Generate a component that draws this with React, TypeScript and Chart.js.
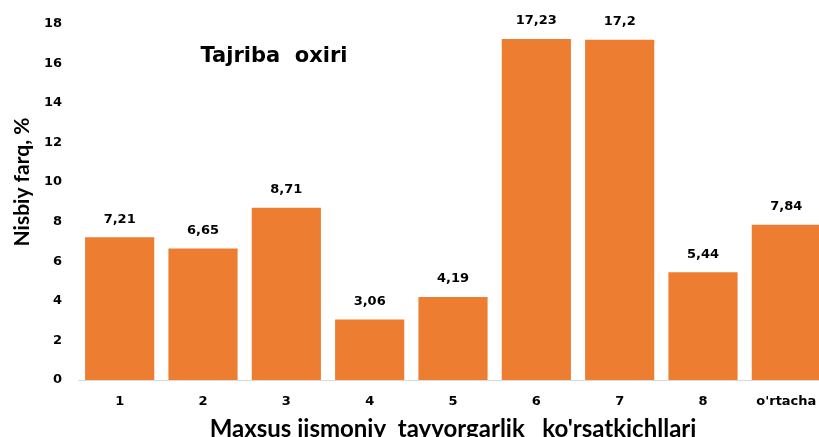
import React, { useEffect, useRef } from "react";
import { Chart, registerables } from "chart.js";

Chart.register(...registerables);

const categories = ["1", "2", "3", "4", "5", "6", "7", "8", "o'rtacha"];
const values = [7.21, 6.65, 8.71, 3.06, 4.19, 17.23, 17.2, 5.44, 7.84];
const valueLabels = ["7,21", "6,65", "8,71", "3,06", "4,19", "17,23", "17,2", "5,44", "7,84"];
const chartTitle = "Tajriba  oxiri";
const yTitle = "Nisbiy farq, %";
const xTitle = "Maxsus jismoniy  tayyorgarlik   ko'rsatkichllari";

const textPlugin = {
  id: "textPlugin",
  afterDraw(chart: any) {
    const ctx = chart.ctx;
    const meta = chart.getDatasetMeta(0);
    ctx.save();
    ctx.fillStyle = "#000";
    ctx.textAlign = "center";
    ctx.textBaseline = "middle";
    ctx.font = "bold 13px 'DejaVu Sans'";
    meta.data.forEach((bar: any, i: number) => {
      ctx.fillText(valueLabels[i], bar.x, bar.y - 18);
    });
    ctx.font = "bold 21px 'DejaVu Sans'";
    ctx.fillText(chartTitle, 274, 57);
    ctx.font = "bold 24px Lato";
    ctx.fillText(xTitle, 453, 429);
    ctx.translate(22, 182);
    ctx.rotate(-Math.PI / 2);
    ctx.font = "bold 21px Lato";
    ctx.fillText(yTitle, 0, 0);
    ctx.restore();
  },
};

export default function App() {
  const ref = useRef<HTMLCanvasElement>(null);
  useEffect(() => {
    document.body.style.margin = "0";
    const chart = new Chart(ref.current!, {
      type: "bar",
      data: {
        labels: categories,
        datasets: [
          {
            data: values,
            backgroundColor: "#ED7D31",
            categoryPercentage: 1,
            barPercentage: 0.83,
          },
        ],
      },
      options: {
        animation: false,
        responsive: false,
        maintainAspectRatio: false,
        layout: { padding: { top: 22, right: 12, left: 0, bottom: 0 } },
        plugins: { legend: { display: false }, tooltip: { enabled: false } },
        scales: {
          x: {
            grid: { display: false, drawTicks: false },
            border: { color: "#D9D9D9", width: 1 },
            ticks: {
              color: "#000",
              font: { family: "'DejaVu Sans'", weight: "bold", size: 13 },
              padding: 14,
              maxRotation: 0,
              autoSkip: false,
            },
            afterFit(scale: any) {
              scale.height = 57;
            },
          },
          y: {
            min: 0,
            max: 18,
            grid: { display: false, drawTicks: false },
            border: { display: false },
            ticks: {
              stepSize: 2,
              color: "#000",
              font: { family: "'DejaVu Sans'", weight: "bold", size: 13 },
              padding: 16,
            },
            afterFit(scale: any) {
              scale.width = 78;
            },
          },
        },
      },
      plugins: [textPlugin],
    });
    return () => chart.destroy();
  }, []);
  return (
    <div style={{ position: "absolute", left: 0, top: 0, width: 819, height: 437, overflow: "hidden", background: "#fff" }}>
      <canvas ref={ref} width={840} height={437} style={{ display: "block", width: 840, height: 437 }} />
    </div>
  );
}
